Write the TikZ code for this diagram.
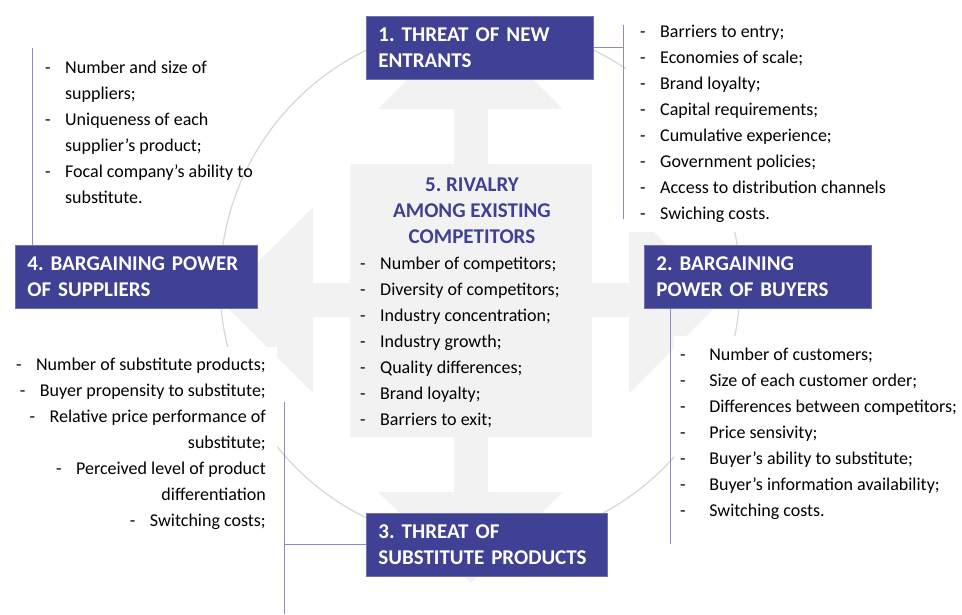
\documentclass[tikz,border=0pt]{standalone}
\usepackage{fontspec}
\setmainfont{Carlito}
\frenchspacing
\definecolor{porter}{RGB}{64,64,148}
\definecolor{porterline}{RGB}{140,140,204}
\definecolor{crossgray}{RGB}{242,242,242}
\definecolor{ringgray}{RGB}{217,217,217}
\newcommand{\itm}[1][20pt]{\rule{0pt}{15pt}\makebox[#1][l]{-}}
\begin{document}
\begin{tikzpicture}[x=1pt,y=-1pt,
	force/.style={fill=porter,draw=porter!75!white,line width=0.8pt,text=white,
		font=\fontsize{21}{26}\selectfont\bfseries,align=left,anchor=north west,
		inner xsep=12pt,inner ysep=0pt,minimum height=63pt},
	factors/.style={font=\fontsize{18}{26}\selectfont,align=left,inner sep=0pt,anchor=north west},
	link/.style={draw=porterline,line width=1pt}]
	\useasboundingbox (0,0) rectangle (962,614);

	\path[draw=ringgray,line width=1.3pt] (480,284) circle[radius=260pt];
	\path[fill=crossgray] (471,17) -- (563,109) -- (488,109) -- (488,164) -- (592,164) -- (592,283)
		-- (629,283) -- (629,207) -- (722,300) -- (629,393) -- (629,317) -- (592,317) -- (592,437)
		-- (488,437) -- (488,492) -- (563,492) -- (471,583) -- (378,492) -- (454,492) -- (454,437)
		-- (350,437) -- (350,317) -- (313,317) -- (313,393) -- (220,300) -- (313,207) -- (313,283)
		-- (350,283) -- (350,164) -- (454,164) -- (454,109) -- (378,109) -- cycle;

	\node[factors,fill=white,inner xsep=14pt,inner ysep=10pt] (l1) at (626,12)
		{\itm Barriers to entry;\\\itm Economies of scale;\\\itm Brand loyalty;\\\itm Capital requirements;\\
		\itm Cumulative experience;\\\itm Government policies;\\\itm Access to distribution channels\\\itm Swiching costs.};
	\node[factors,fill=white,inner xsep=6pt,inner ysep=9pt] (l2) at (674,336)
		{\itm[25pt] Number of customers;\\\itm[25pt] Size of each customer order;\\\itm[25pt] Differences between competitors;\\
		\itm[25pt] Price sensivity;\\\itm[25pt] Buyer’s ability to substitute;\\\itm[25pt] Buyer’s information availability;\\
		\itm[25pt] Switching costs.};
	\node[factors,fill=white,inner xsep=11pt,inner ysep=8pt,align=right,anchor=north east] (l3) at (277,347)
		{\itm Number of substitute products;\\\itm Buyer propensity to substitute;\\\itm Relative price performance of\\
		substitute;\\\itm Perceived level of product\\differentiation\\\itm Switching costs;};
	\node[factors] (l4) at (45,58)
		{\itm Number and size of\\\hspace*{20pt}suppliers;\\\itm Uniqueness of each\\\hspace*{20pt}supplier’s product;\\
		\itm Focal company’s ability to\\\hspace*{20pt}substitute.};
	\node[factors,font=\fontsize{21}{26}\selectfont\bfseries,text=porter,align=center,anchor=north] (f5) at (472,175)
		{\rule{0pt}{16pt}5. RIVALRY\\AMONG EXISTING\\COMPETITORS};
	\node[factors] (l5) at (360,254)
		{\itm Number of competitors;\\\itm Diversity of competitors;\\\itm Industry concentration;\\\itm Industry growth;\\
		\itm Quality differences;\\\itm Brand loyalty;\\\itm Barriers to exit;};

	\node[force,text width=203pt] (f1) at (366,16) {1. THREAT OF NEW\\ENTRANTS};
	\node[force,text width=203pt] (f2) at (644,245) {2. BARGAINING\\POWER OF BUYERS};
	\node[force,text width=217pt] (f3) at (366,513) {3. THREAT OF\\SUBSTITUTE PRODUCTS};
	\node[force,text width=218pt] (f4) at (15,245) {4. BARGAINING POWER\\OF SUPPLIERS};

	\coordinate (c1a) at (623,25);
	\coordinate (c1b) at (623,219);
	\coordinate (c2) at (670,544);
	\coordinate (c3a) at (284,402);
	\coordinate (c3b) at (284,614);
	\coordinate (c4) at (32,48);

	\path[link] (c1a) -- (c1b);
	\path[link] (f1.east) -- (f1.east -| c1a);
	\path[link] (c2 |- f2.south) -- (c2);
	\path[link] (c3a) -- (c3b);
	\path[link] (f3.west) -- (f3.west -| c3a);
	\path[link] (c4) -- (c4 |- f4.north);
\end{tikzpicture}
\end{document}
